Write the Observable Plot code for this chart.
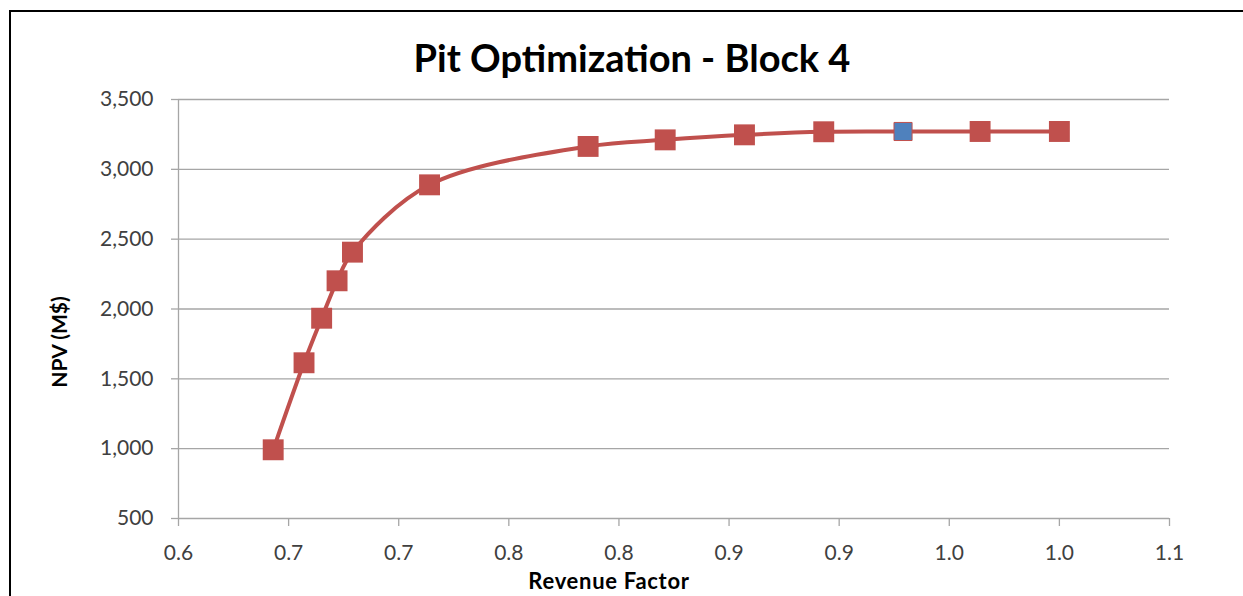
<!DOCTYPE html>
<html>
<head>
<meta charset="utf-8">
<script src="https://cdn.jsdelivr.net/npm/d3@7"></script>
<script src="https://cdn.jsdelivr.net/npm/@observablehq/plot@0.6"></script>
<style>
  html, body { margin: 0; padding: 0; background: #fff; overflow: hidden; }
  #wrap { position: relative; width: 1243px; height: 596px; overflow: hidden; font-family: Lato, "Open Sans", sans-serif; }
  #frame { position: absolute; left: 9px; top: 10px; width: 1240px; height: 600px; border-left: 2px solid #000; border-top: 2.5px solid #000; }
  #chart { position: absolute; left: 0; top: 0; }
  #labels { position: absolute; left: 0; top: 0; pointer-events: none; }
</style>
</head>
<body>
<div id="wrap">
  <div id="frame"></div>
  <div id="chart"></div>
  <svg id="labels" width="1243" height="596" font-family="Lato, 'Open Sans', sans-serif">
    <text x="632" y="72" text-anchor="middle" font-size="38" font-weight="bold" fill="#000">Pit Optimization - Block 4</text>
    <text x="609" y="589" text-anchor="middle" font-size="22" font-weight="bold" letter-spacing="0.7" fill="#000">Revenue Factor</text>
    <text transform="translate(67,342) rotate(-90)" text-anchor="middle" font-size="21" font-weight="bold" fill="#000">NPV (M$)</text>
  </svg>
</div>
<script>
// Data
const revenueFactor = [0.643, 0.657, 0.665, 0.672, 0.679, 0.714, 0.786, 0.821, 0.857, 0.893, 0.929, 0.964, 1.000];
const npv = [992, 1615, 1934, 2202, 2407, 2889, 3164, 3211, 3247, 3269, 3271, 3271, 3271];
const selectedIndex = 10; // blue (selected) pit
const xTicks = [0.6, 0.65, 0.7, 0.75, 0.8, 0.85, 0.9, 0.95, 1.0, 1.05];
const xTickLabels = ["0.6", "0.7", "0.7", "0.8", "0.8", "0.9", "0.9", "1.0", "1.0", "1.1"];
const yTicks = [500, 1000, 1500, 2000, 2500, 3000, 3500];

const data = revenueFactor.map((x, i) => ({x, y: npv[i], selected: i === selectedIndex}));

const red = "#C0504D";
const blue = "#4F81BD";
const grid = "#a6a6a6";
const text = "#404040";

const plot = Plot.plot({
  width: 1243,
  height: 596,
  marginLeft: 178,
  marginRight: 74,
  marginTop: 99,
  marginBottom: 78,
  style: {fontFamily: "Lato, 'Open Sans', sans-serif", background: "transparent", overflow: "visible"},
  x: {domain: [0.6, 1.05]},
  y: {domain: [500, 3500]},
  marks: [
    Plot.gridY(yTicks, {stroke: grid, strokeOpacity: 1, strokeWidth: 1.3}),
    Plot.ruleX([0.6], {stroke: grid, strokeWidth: 1.3}),
    Plot.axisY(yTicks, {
      tickSize: 7, tickPadding: 18, stroke: grid, strokeWidth: 1.3,
      fill: text, fontSize: 21, label: null, tickFormat: d3.format(",")
    }),
    Plot.axisX(xTicks, {
      tickSize: 8, tickPadding: 19, stroke: grid, strokeWidth: 1.3,
      fill: text, fontSize: 21, label: null,
      tickFormat: d => xTickLabels[xTicks.indexOf(d)]
    }),
    Plot.line(data, {x: "x", y: "y", stroke: red, strokeWidth: 4, curve: "catmull-rom"}),
    Plot.dot(data.filter(d => !d.selected), {x: "x", y: "y", symbol: "square", r: 11.8, fill: red, stroke: null}),
    Plot.dot(data.filter(d => d.selected), {x: "x", y: "y", symbol: "square", r: 10.2, fill: blue, stroke: red, strokeWidth: 1})
  ]
});
document.getElementById("chart").appendChild(plot);
</script>
</body>
</html>
